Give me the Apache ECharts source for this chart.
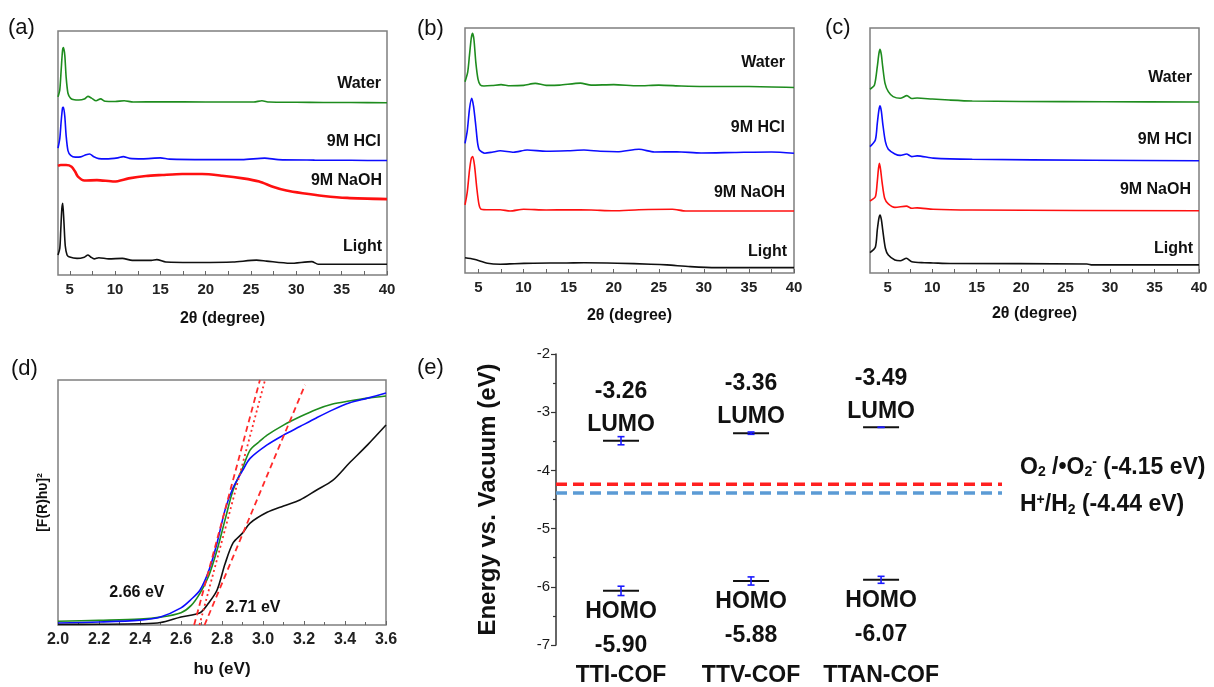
<!DOCTYPE html>
<html><head><meta charset="utf-8">
<script src="https://cdn.jsdelivr.net/npm/echarts@6/dist/echarts.min.js"></script>
<style>html,body{margin:0;padding:0;background:#fff}#c{width:1214px;height:687px}</style>
</head><body><div id="c"></div>
<script>
// ---------- DATA ----------
const sampleNames = ['Water', '9M HCl', '9M NaOH', 'Light'];
const xTickLabels = [5, 10, 15, 20, 25, 30, 35, 40];
const xMinorTicks = [5, 7.5, 10, 12.5, 15, 17.5, 20, 22.5, 25, 27.5, 30, 32.5, 35, 37.5, 40];

// (a) PXRD (arbitrary intensity, offset traces)
const waterA = [[3.7,73],[3.9,76],[4.05,84],[4.2,92],[4.3,93.2],[4.45,90],[4.6,81],[4.8,74.5],[5.1,72.4],[5.5,71.8],[6.0,71.7],[6.6,72.1],[7.0,73.2],[7.4,72.5],[7.9,71.4],[8.4,72.2],[8.9,71.2],[10,71.1],[11,71.4],[12,70.9],[15,71.0],[20,70.9],[25.3,70.9],[26.2,71.4],[27,70.9],[30,70.8],[33,70.7],[36,70.7],[40,70.6]];
const hclA = [[3.7,52],[3.9,56],[4.05,63],[4.2,68.5],[4.3,68.7],[4.45,65],[4.6,57],[4.8,51],[5.1,49],[5.6,48.3],[6.2,48.4],[6.8,49.3],[7.2,49.6],[7.6,48.6],[8.2,47.7],[9,47.6],[10.3,48.0],[10.9,48.5],[11.6,47.8],[13,47.6],[15,48.0],[16,47.5],[20,47.3],[24,47.3],[26.5,47.9],[28,47.3],[32,47.1],[36,47.0],[40,46.9]];
const naohA = [[3.7,44.7],[4.0,45.1],[4.6,45.1],[5.2,44.4],[5.6,42.3],[5.9,40.3],[6.6,38.7],[8.0,38.9],[9.9,38.3],[11.5,39.6],[13.4,40.6],[15.2,41.0],[17.4,41.4],[19.6,41.4],[21.8,40.7],[24.1,39.6],[25.9,38.3],[27.4,36.2],[28.9,34.6],[30.7,33.5],[33,32.4],[35.6,31.6],[40,31.1]];
const lightA = [[3.7,8.2],[3.9,11],[4.0,18],[4.12,27],[4.22,29.4],[4.35,22],[4.5,12],[4.7,8.2],[4.9,7.5],[5.8,6.8],[6.6,7.3],[7.0,8.2],[7.3,7.4],[7.7,6.6],[8.2,7.1],[9.3,6.6],[10.8,6.8],[11.9,6.0],[14.0,6.0],[14.6,6.3],[15.6,5.3],[19.3,5.1],[23,5.3],[25.6,6.1],[26.7,5.7],[29.3,4.8],[31.7,5.5],[32.4,4.4],[36,4.4],[40,4.4]];

// (b)
const waterB = [[3.5,78.1],[3.8,82],[4.0,89],[4.2,96],[4.35,97.8],[4.5,95],[4.7,86],[4.95,79],[5.2,76.7],[5.6,76.3],[6.5,76.5],[7.5,76.9],[8.5,76.4],[10,76.6],[11.3,77.4],[12.5,76.6],[14,76.7],[16.3,77.5],[17.5,76.7],[20,76.9],[22.7,76.4],[25,76.7],[27.5,76.3],[30,76.1],[35,76.1],[40,75.7]];
const hclB = [[3.5,52.9],[3.75,58],[4.0,67],[4.24,71.3],[4.45,68],[4.7,60],[4.9,53],[5.1,50.2],[5.7,48.9],[6.5,49.3],[7.4,49.9],[8.9,49.3],[10.4,50.2],[12.5,49.7],[14.9,49.9],[16.7,50.2],[18.5,49.7],[20.4,49.5],[22.8,50.5],[24.5,49.4],[27,49.5],[29.7,49.0],[33.4,49.2],[37.5,49.4],[40,48.9]];
const naohB = [[3.5,27.8],[3.75,33],[4.0,42],[4.2,46.8],[4.35,47.5],[4.55,44],[4.8,35],[5.05,28],[5.3,26],[6.2,25.8],[7.4,25.8],[8.5,25.3],[10,26.0],[12.5,25.7],[15,25.8],[17.5,25.7],[20,25.4],[22.8,25.8],[26.5,26.0],[28,25.3],[34,25.3],[40,25.3]];
const lightB = [[3.5,6.2],[4.5,5.6],[6.0,4.0],[7.4,3.6],[9,3.8],[11.1,4.0],[14.8,4.1],[16.7,4.2],[20.4,4.0],[24.1,3.6],[25.9,3.3],[28.5,2.6],[31.4,2.2],[35,2.2],[40,2.2]];

// (c)
const waterC = [[3.0,75],[3.5,76.7],[3.82,84.2],[4.0,89.5],[4.13,91.3],[4.28,89],[4.43,84.2],[4.69,77.4],[5.06,74],[5.6,72],[6.4,71.3],[7.15,72.4],[7.7,71.2],[8.3,71.4],[10,71],[11.9,70.6],[14.5,70.2],[20,70.0],[29.5,69.9],[40,69.8]];
const hclC = [[3.0,51.6],[3.6,54.3],[3.82,61.1],[4.0,66.5],[4.13,68.2],[4.28,66],[4.43,61.1],[4.73,53.6],[5.06,50.5],[5.8,48.6],[6.4,48],[7.1,48.6],[7.7,47.5],[8.3,47.8],[10.1,46.9],[14.5,46.4],[28,46.0],[40,45.8]];
const naohC = [[3.0,29.4],[3.6,31.1],[3.8,36.6],[3.95,42.5],[4.06,44.8],[4.2,42],[4.35,37.3],[4.65,30.5],[5.06,28.2],[5.8,26.8],[7.1,27.3],[7.7,26.4],[8.3,26.6],[10.1,26],[14.5,25.7],[40,25.4]];
const lightC = [[3.0,8.3],[3.6,10.5],[3.82,17.6],[4.0,22.3],[4.13,23.7],[4.28,21.8],[4.43,17.6],[4.73,10.1],[5.06,7.3],[5.8,5.3],[6.4,5.0],[7.1,6.0],[7.7,4.6],[9.1,4.2],[10.1,4.1],[12,3.9],[27.4,3.7],[28,3.3],[40,3.3]];

// (d) Tauc plot
const blueD = [[2.0,0.8],[2.2,1.2],[2.4,2.0],[2.5,3.3],[2.6,7],[2.65,10.5],[2.693,14.3],[2.735,22],[2.776,33.5],[2.815,47],[2.854,56],[2.90,63],[2.937,68],[3.02,73.5],[3.10,77.5],[3.18,81],[3.26,84.5],[3.34,87.8],[3.42,90.6],[3.51,92.6],[3.6,94.7]];
const greenD = [[2.0,1.5],[2.2,1.9],[2.4,2.4],[2.5,3.2],[2.6,5],[2.65,8],[2.693,13],[2.735,20],[2.776,30.6],[2.815,43],[2.854,55],[2.90,64],[2.937,71.4],[2.98,74.7],[3.02,77.5],[3.10,81.6],[3.18,85],[3.26,88],[3.34,90.2],[3.42,91.4],[3.51,92.6],[3.6,93.5]];
const blackD = [[2.0,0.2],[2.2,0.3],[2.4,0.5],[2.5,1.0],[2.6,3.3],[2.693,5],[2.735,9],[2.776,14.3],[2.815,25],[2.854,33.5],[2.90,37.5],[2.937,41.6],[3.02,46],[3.10,48.6],[3.18,51],[3.26,55],[3.34,59],[3.42,66],[3.51,73.5],[3.6,81.6]];
const tangent1 = [[2.664,0],[2.985,100]];
const tangent2 = [[2.69,0],[3.01,100]];
const tangent3 = [[2.715,0],[3.205,98]];
const gapLabels = ['2.66 eV', '2.71 eV'];
const gapLabelPos = [[2.385,13.1],[2.951,7.3]];

// (e) band alignment
const cofNames = ['TTI-COF', 'TTV-COF', 'TTAN-COF'];
const lumoLevels = [-3.49, -3.36, -3.26];
const homoLevels = [-6.07, -5.90, -5.88];
const lumoErr = [0.07, 0.02, 0.0];
const homoErr = [0.08, 0.07, 0.06];
const lumoValueText = ['-3.26', '-3.36', '-3.49'];
const homoValueText = ['-5.90', '-5.88', '-6.07'];
const o2Level = -4.24;
const h2Level = -4.39;
const eTicks = [-7, -2];

// ---------- STYLE ----------
const FF = '"Liberation Sans", Arial, sans-serif';
const colors = ['#1e8c1e', '#0d0dff', '#ff1010', '#101010'];
const labelOffsets = [
  [[-6,-19],[-6,-19],[-5,-19],[-5,-18]],
  [[-9,-25],[-9,-26],[-9,-18],[-7,-16]],
  [[-7,-24],[-7,-21],[-8,-21],[-6,-16]]
];

const chart = echarts.init(document.getElementById('c'), null, {renderer: 'canvas'});

const grids = [
  {left: 58, top: 31, width: 329, height: 244},
  {left: 465, top: 28, width: 329, height: 245},
  {left: 870, top: 28, width: 329, height: 245},
  {left: 58, top: 380, width: 328, height: 245},
  {left: 556, top: 354, width: 446, height: 291}
].map((g, i) => Object.assign(g, i < 4 ? {show: true, borderColor: '#7f7f7f', borderWidth: 1.5} : {show: false}));

function pxrdX(gi, min, nameGap) {
  return {
    gridIndex: gi, type: 'value', min: min, max: 40,
    name: '2θ (degree)', nameLocation: 'middle', nameGap: nameGap,
    nameTextStyle: {fontFamily: FF, fontSize: 16, fontWeight: 'bold', color: '#111'},
    axisLine: {show: false},
    axisTick: {show: true, inside: true, length: 4, customValues: xMinorTicks, lineStyle: {color: '#666', width: 1}},
    axisLabel: {customValues: xTickLabels, fontFamily: FF, fontSize: 15, fontWeight: 'bold', color: '#222', margin: 7},
    splitLine: {show: false}
  };
}
const hiddenY = gi => ({gridIndex: gi, type: 'value', min: 0, max: 100, show: false});

const xAxes = [
  pxrdX(0, 3.7, 36), pxrdX(1, 3.5, 35), pxrdX(2, 3.0, 33),
  {gridIndex: 3, type: 'value', min: 2.0, max: 3.6, interval: 0.2,
   name: 'hυ (eV)', nameLocation: 'middle', nameGap: 36,
   nameTextStyle: {fontFamily: FF, fontSize: 17, fontWeight: 'bold', color: '#111'},
   axisLine: {show: false},
   axisTick: {show: true, inside: true, length: 4, lineStyle: {color: '#666'}},
   minorTick: {show: true, splitNumber: 2, length: 3, lineStyle: {color: '#666'}},
   axisLabel: {formatter: v => v.toFixed(1), fontFamily: FF, fontSize: 16, fontWeight: 'bold', color: '#222', margin: 7},
   splitLine: {show: false}},
  {gridIndex: 4, type: 'value', min: -0.5, max: 2.93, show: false}
];
const yAxes = [
  hiddenY(0), hiddenY(1), hiddenY(2),
  {gridIndex: 3, type: 'value', min: 0, max: 100, name: '[F(R)hυ]²', nameLocation: 'middle', nameGap: 8,
   nameTextStyle: {fontFamily: FF, fontSize: 14, fontWeight: 'bold', color: '#111'},
   axisLine: {show: false}, axisTick: {show: false}, axisLabel: {show: false}, splitLine: {show: false}},
  {gridIndex: 4, type: 'value', min: eTicks[0], max: eTicks[1], interval: 1,
   name: 'Energy vs. Vacuum (eV)', nameLocation: 'middle', nameGap: 56,
   nameTextStyle: {fontFamily: FF, fontSize: 24, fontWeight: 'bold', color: '#111'},
   axisLine: {show: true, onZero: false, lineStyle: {color: '#333', width: 1.5}},
   axisTick: {show: true, length: 5, lineStyle: {color: '#333', width: 1.2}},
   minorTick: {show: true, splitNumber: 2, length: 3, lineStyle: {color: '#333', width: 1.2}},
   axisLabel: {fontFamily: FF, fontSize: 15, color: '#1a1a1a', margin: 6},
   splitLine: {show: false}}
];

const series = [];
const pxrdSets = [[waterA, hclA, naohA, lightA], [waterB, hclB, naohB, lightB], [waterC, hclC, naohC, lightC]];
pxrdSets.forEach((set, gi) => {
  set.forEach((d, si) => {
    series.push({
      type: 'line', name: sampleNames[si], xAxisIndex: gi, yAxisIndex: gi, data: d,
      symbol: 'none', smooth: 0.25, animation: false,
      lineStyle: {color: colors[si], width: (gi === 0 && si === 2) ? 2.6 : 1.6},
      endLabel: {show: true, formatter: '{a}', align: 'right', verticalAlign: 'middle', distance: 0,
                 offset: labelOffsets[gi][si], color: '#111', fontFamily: FF, fontSize: 16, fontWeight: 'bold'}
    });
  });
});

// (d)
[[greenD, colors[0]], [blueD, colors[1]], [blackD, colors[3]]].forEach(([d, c]) => {
  series.push({type: 'line', xAxisIndex: 3, yAxisIndex: 3, data: d, symbol: 'none', smooth: 0.3, animation: false,
               lineStyle: {color: c, width: 1.6}});
});
[[tangent1, [6, 4]], [tangent2, [2, 3]], [tangent3, [6, 4]]].forEach(([d, t]) => {
  series.push({type: 'line', xAxisIndex: 3, yAxisIndex: 3, data: d, symbol: 'none', animation: false, z: 5,
               lineStyle: {color: '#ff2a2a', width: 1.8, type: t}});
});
series.push({type: 'custom', xAxisIndex: 3, yAxisIndex: 3, data: gapLabelPos, animation: false, z: 7,
  renderItem: (params, api) => {
    const c = api.coord([api.value(0), api.value(1)]);
    return {type: 'text', x: c[0], y: c[1],
            style: {text: gapLabels[params.dataIndex], fill: '#111', font: 'bold 16px ' + FF, align: 'center', verticalAlign: 'middle'}};
  }});

// (e) redox potential dashed lines
const richSub = {fontFamily: FF, fontSize: 14, fontWeight: 'bold', color: '#111', verticalAlign: 'bottom', padding: [10, 0, 0, 0]};
const richSup = {fontFamily: FF, fontSize: 14, fontWeight: 'bold', color: '#111', verticalAlign: 'top', padding: [0, 0, 10, 0]};
series.push({type: 'line', xAxisIndex: 4, yAxisIndex: 4, symbol: 'none', animation: false,
  data: [[xAxes[4].min, o2Level], [xAxes[4].max, o2Level]],
  lineStyle: {color: '#ff2020', width: 3.5, type: [11, 6]},
  endLabel: {show: true, formatter: 'O{s|2} /•O{s|2}{p|-} (-4.15 eV)', align: 'left', verticalAlign: 'middle', distance: 0,
             offset: [18, -17], color: '#111', fontFamily: FF, fontSize: 23, fontWeight: 'bold', rich: {s: richSub, p: richSup}}});
series.push({type: 'line', xAxisIndex: 4, yAxisIndex: 4, symbol: 'none', animation: false,
  data: [[xAxes[4].min, h2Level], [xAxes[4].max, h2Level]],
  lineStyle: {color: '#5b9bd5', width: 3.5, type: [11, 6]},
  endLabel: {show: true, formatter: 'H{p|+}/H{s|2} (-4.44 eV)', align: 'left', verticalAlign: 'middle', distance: 0,
             offset: [18, 12], color: '#111', fontFamily: FF, fontSize: 23, fontWeight: 'bold', rich: {s: richSub, p: richSup}}});

// (e) energy levels with error bars
function levelSeries(levels, errs) {
  return {
    type: 'custom', xAxisIndex: 4, yAxisIndex: 4, animation: false, z: 6,
    data: levels.map((v, i) => [i, v, errs[i]]),
    renderItem: (params, api) => {
      const x = api.value(0), y = api.value(1), e = api.value(2);
      const c = api.coord([x, y]);
      const t = api.coord([x, y + e]), b = api.coord([x, y - e]);
      const blue = {stroke: '#1a1aff', lineWidth: 1.6};
      return {type: 'group', children: [
        {type: 'line', shape: {x1: c[0] - 18, y1: c[1], x2: c[0] + 18, y2: c[1]}, style: {stroke: '#111', lineWidth: 2}},
        {type: 'line', shape: {x1: c[0], y1: t[1], x2: c[0], y2: b[1]}, style: blue},
        {type: 'line', shape: {x1: c[0] - 3.5, y1: t[1], x2: c[0] + 3.5, y2: t[1]}, style: blue},
        {type: 'line', shape: {x1: c[0] - 3.5, y1: b[1], x2: c[0] + 3.5, y2: b[1]}, style: blue}
      ]};
    }
  };
}
series.push(levelSeries(lumoLevels, lumoErr));
series.push(levelSeries(homoLevels, homoErr));

function textSeries(texts, ys, dy) {
  return {
    type: 'custom', xAxisIndex: 4, yAxisIndex: 4, animation: false, z: 7,
    data: ys.map((v, i) => [i, v]),
    renderItem: (params, api) => {
      const c = api.coord([api.value(0), api.value(1)]);
      return {type: 'text', x: c[0], y: c[1] + dy,
              style: {text: texts[params.dataIndex], fill: '#111', font: 'bold 23px ' + FF, align: 'center', verticalAlign: 'middle'}};
    }
  };
}
series.push(textSeries(lumoValueText, lumoLevels, -49));
series.push(textSeries(['LUMO', 'LUMO', 'LUMO'], lumoLevels, -16));
series.push(textSeries(['HOMO', 'HOMO', 'HOMO'], homoLevels, 21));
series.push(textSeries(homoValueText, homoLevels, 55));
series.push(textSeries(cofNames, [eTicks[0], eTicks[0], eTicks[0]], 31));

const panelLetter = (t, l, tp) => ({type: 'text', left: l, top: tp, style: {text: t, font: '22px ' + FF, fill: '#111'}});

chart.setOption({
  animation: false,
  backgroundColor: '#fff',
  grid: grids, xAxis: xAxes, yAxis: yAxes, series: series,
  graphic: [panelLetter('(a)', 8, 17), panelLetter('(b)', 417, 18), panelLetter('(c)', 825, 17),
            panelLetter('(d)', 11, 358), panelLetter('(e)', 417, 357)]
});
</script></body></html>
